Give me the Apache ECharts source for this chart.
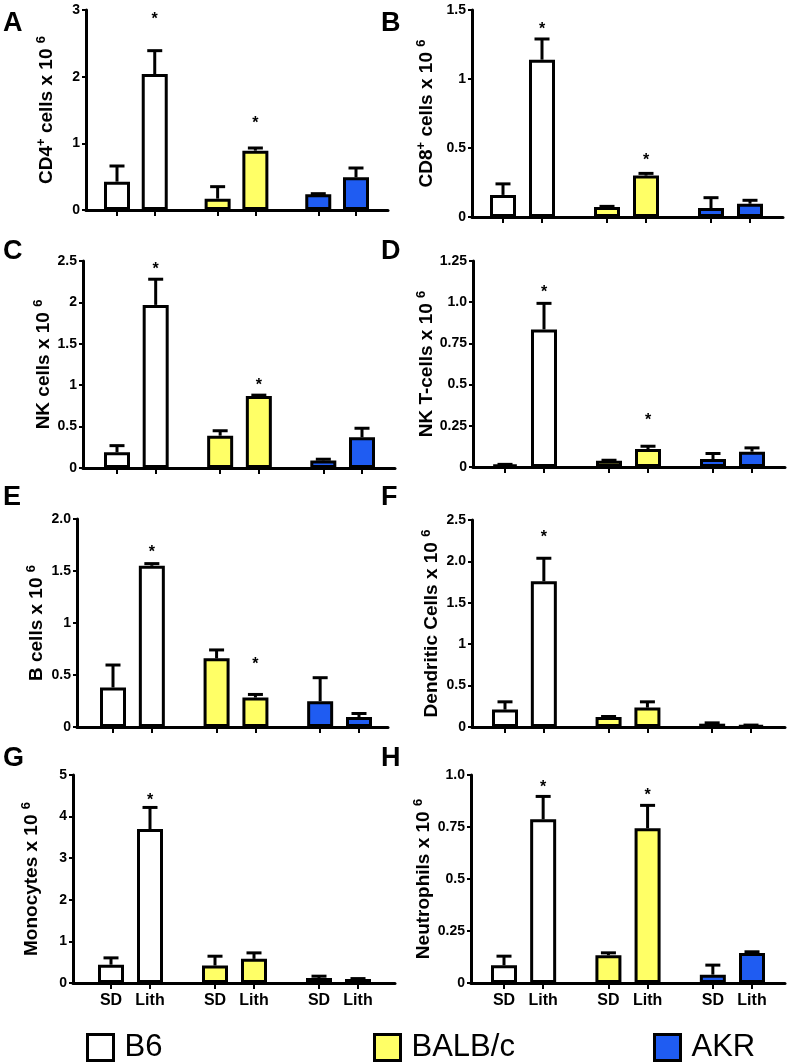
<!DOCTYPE html>
<html>
<head>
<meta charset="utf-8">
<script src="https://cdn.jsdelivr.net/npm/echarts@6/dist/echarts.min.js"></script>
<style>
html, body { margin: 0; padding: 0; background: #fff; }
#chart { width: 790px; height: 1064px; }
</style>
</head>
<body>
<div id="chart"></div>
<script>
var strains = ['B6', 'BALB/c', 'AKR'];
var treatments = ['SD', 'Lith'];
var letters = ['A', 'B', 'C', 'D', 'E', 'F', 'G', 'H'];
var yTitles = [
  'CD4{s|+} cells x 10 {s|6}',
  'CD8{s|+} cells x 10 {s|6}',
  'NK cells x 10 {s|6}',
  'NK T-cells x 10 {s|6}',
  'B cells x 10 {s|6}',
  'Dendritic Cells x 10 {s|6}',
  'Monocytes x 10 {s|6}',
  'Neutrophils x 10 {s|6}'
];

// order in every array: B6 SD, B6 Lith, BALB/c SD, BALB/c Lith, AKR SD, AKR Lith
var cd4Mean = [0.425, 2.04, 0.17, 0.89, 0.235, 0.49];
var cd4Sem = [0.235, 0.35, 0.18, 0.04, 0.01, 0.14];
var cd4Star = [null, 2.91, null, 1.35, null, null];
var cd4Ticks = ['0', '1', '2', '3'];

var cd8Mean = [0.16, 1.14, 0.072, 0.30, 0.065, 0.096];
var cd8Sem = [0.08, 0.15, 0.005, 0.016, 0.075, 0.025];
var cd8Star = [null, 1.384, null, 0.439, null, null];
var cd8Ticks = ['0', '0.5', '1', '1.5'];

var nkMean = [0.19, 1.97, 0.39, 0.87, 0.092, 0.37];
var nkSem = [0.08, 0.31, 0.06, 0.01, 0.014, 0.11];
var nkStar = [null, 2.45, null, 1.04, null, null];
var nkTicks = ['0', '0.5', '1', '1.5', '2', '2.5'];

var nktMean = [0.014, 0.835, 0.038, 0.109, 0.048, 0.093];
var nktSem = [0.002, 0.158, 0.003, 0.017, 0.034, 0.023];
var nktStar = [null, 1.083, null, 0.306, null, null];
var nktTicks = ['0', '0.25', '0.5', '0.75', '1.0', '1.25'];

var bMean = [0.38, 1.55, 0.66, 0.283, 0.248, 0.096];
var bSem = [0.216, 0.021, 0.081, 0.03, 0.226, 0.034];
var bStar = [null, 1.72, null, 0.637, null, null];
var bTicks = ['0', '0.5', '1', '1.5', '2.0'];

var dcMean = [0.21, 1.76, 0.12, 0.234, 0.04, 0.02];
var dcSem = [0.094, 0.278, 0.007, 0.07, 0.01, 0.003];
var dcStar = [null, 2.34, null, null, null, null];
var dcTicks = ['0', '0.5', '1', '1.5', '2.0', '2.5'];

var monoMean = [0.44, 3.70, 0.42, 0.58, 0.12, 0.096];
var monoSem = [0.164, 0.52, 0.224, 0.144, 0.044, 0.01];
var monoStar = [null, 4.48, null, null, null, null];
var monoTicks = ['0', '1', '2', '3', '4', '5'];

var neuMean = [0.085, 0.787, 0.133, 0.744, 0.04, 0.144];
var neuSem = [0.044, 0.11, 0.012, 0.11, 0.046, 0.006];
var neuStar = [null, 0.96, null, 0.92, null, null];
var neuTicks = ['0', '0.25', '0.5', '0.75', '1.0'];

var means = [cd4Mean, cd8Mean, nkMean, nktMean, bMean, dcMean, monoMean, neuMean];
var sems = [cd4Sem, cd8Sem, nkSem, nktSem, bSem, dcSem, monoSem, neuSem];
var stars = [cd4Star, cd8Star, nkStar, nktStar, bStar, dcStar, monoStar, neuStar];
var ticks = [cd4Ticks, cd8Ticks, nkTicks, nktTicks, bTicks, dcTicks, monoTicks, neuTicks];

// layout (px): axis left, axis top, axis right, zero line, first bar centre, last bar centre, title baseline x
var boxes = [
  [86, 10, 388, 210, 117, 356, 53],
  [472, 10, 783, 217, 503, 750, 433],
  [83, 261, 395, 468, 117, 362, 50],
  [473, 261, 785, 467, 505, 752, 433],
  [77, 519, 388, 727, 113, 359, 43],
  [472, 520, 785, 727, 505, 751, 438],
  [73, 775, 395, 983, 111, 358, 38],
  [471, 775, 785, 983, 504, 752, 430]
];
var letterPos = [[3, 15], [381, 15], [3, 243], [381, 243], [3, 489], [381, 489], [3, 750], [381, 750]];
var fills = ['#ffffff', '#ffff66', '#1f5cf2'];
var legendLeft = [86, 373, 653];
var font = 'Liberation Sans, Arial, sans-serif';

// bar slots on the x value axis: groups of two, wider gap between strains
function slot(j) { return Math.floor(j / 2) * 8 + (j % 2) * 3; }
var slots = [0, 1, 2, 3, 4, 5].map(slot);

function renderErr(params, api) {
  var x = api.value(0), v = api.value(1), s = api.value(2);
  var base = api.coord([x, v]);
  var top = api.coord([x, v + s]);
  var st = { stroke: '#000', lineWidth: 3 };
  return {
    type: 'group',
    children: [
      { type: 'line', shape: { x1: base[0], y1: base[1], x2: top[0], y2: top[1] }, style: st },
      { type: 'line', shape: { x1: top[0] - 7.5, y1: top[1], x2: top[0] + 7.5, y2: top[1] }, style: st }
    ]
  };
}
function renderStar(params, api) {
  var p = api.coord([api.value(0), api.value(1)]);
  return {
    type: 'text',
    style: { text: '*', x: p[0], y: p[1] + 4, fill: '#000', font: 'bold 16px ' + font, align: 'center', verticalAlign: 'middle' }
  };
}

var grids = [], xAxes = [], yAxes = [], series = [], graphics = [];
boxes.forEach(function (b, i) {
  var u = (b[5] - b[4]) / 19;
  var tk = ticks[i];
  var tmax = parseFloat(tk[tk.length - 1]);
  var tstep = parseFloat(tk[1]);
  var bottomRow = i >= 6;
  grids.push({ left: b[0], top: b[1], width: b[2] - b[0], height: b[3] - b[1], containLabel: false, outerBoundsMode: 'none' });
  xAxes.push({
    gridIndex: i, type: 'value',
    min: -(b[4] - b[0]) / u, max: 19 + (b[2] - b[5]) / u,
    axisLine: { show: true, onZero: false, lineStyle: { color: '#000', width: 3 } },
    axisTick: { show: true, length: 6, customValues: slots, lineStyle: { color: '#000', width: 2 } },
    axisLabel: {
      show: bottomRow, customValues: slots, margin: 10,
      fontFamily: font, fontSize: 16, fontWeight: 'bold', color: '#000',
      formatter: function (v) { return treatments[slots.indexOf(v) % 2]; }
    },
    splitLine: { show: false }
  });
  yAxes.push({
    gridIndex: i, type: 'value', min: 0, max: tmax, interval: tstep,
    name: yTitles[i], nameLocation: 'middle', nameRotate: 90, nameGap: b[0] - b[6] - 5,
    nameMoveOverlap: false,
    nameTextStyle: {
      fontFamily: font, fontSize: 19, fontWeight: 'bold', color: '#000', lineHeight: 23,
      rich: { s: { fontFamily: font, fontSize: 13, fontWeight: 'bold', color: '#000', lineHeight: 13, verticalAlign: 'top' } }
    },
    axisLine: { show: true, onZero: false, lineStyle: { color: '#000', width: 3 } },
    axisTick: { show: true, length: 4, lineStyle: { color: '#000', width: 2 } },
    axisLabel: {
      margin: 6, fontFamily: font, fontSize: 14, fontWeight: 'bold', color: '#000',
      formatter: function (v) {
        for (var k = 0; k < tk.length; k++) if (Math.abs(parseFloat(tk[k]) - v) < 1e-6) return tk[k];
        return '';
      }
    },
    splitLine: { show: false }
  });
  strains.forEach(function (s, k) {
    series.push({
      type: 'bar', name: s, xAxisIndex: i, yAxisIndex: i,
      barWidth: 26, barGap: '-100%',
      data: [[slot(2 * k), means[i][2 * k]], [slot(2 * k + 1), means[i][2 * k + 1]]],
      itemStyle: { color: fills[k], borderColor: '#000', borderWidth: 3 },
      z: 2
    });
  });
  series.push({
    type: 'custom', xAxisIndex: i, yAxisIndex: i, renderItem: renderErr, z: 3,
    data: means[i].map(function (m, j) { return [slot(j), m, sems[i][j]]; })
  });
  var starData = [];
  stars[i].forEach(function (v, j) { if (v != null) starData.push([slot(j), v]); });
  series.push({ type: 'custom', xAxisIndex: i, yAxisIndex: i, renderItem: renderStar, z: 4, data: starData });
  graphics.push({
    type: 'text', left: letterPos[i][0], top: letterPos[i][1] - 5,
    style: { text: letters[i], font: 'bold 27px ' + font, fill: '#000' }
  });
});

var legends = strains.map(function (s, k) {
  return {
    data: [s], left: legendLeft[k], top: 1032, icon: 'rect', padding: 0,
    itemWidth: 26, itemHeight: 26, selectedMode: false,
    itemStyle: { borderColor: '#000', borderWidth: 3 },
    textStyle: { fontFamily: font, fontSize: 31, color: '#000', padding: [0, 0, 0, 6] }
  };
});

var myChart = echarts.init(document.getElementById('chart'));
option = {
  backgroundColor: '#ffffff',
  animation: false,
  grid: grids,
  xAxis: xAxes,
  yAxis: yAxes,
  legend: legends,
  series: series,
  graphic: graphics
};
myChart.setOption(option);
</script>
</body>
</html>
